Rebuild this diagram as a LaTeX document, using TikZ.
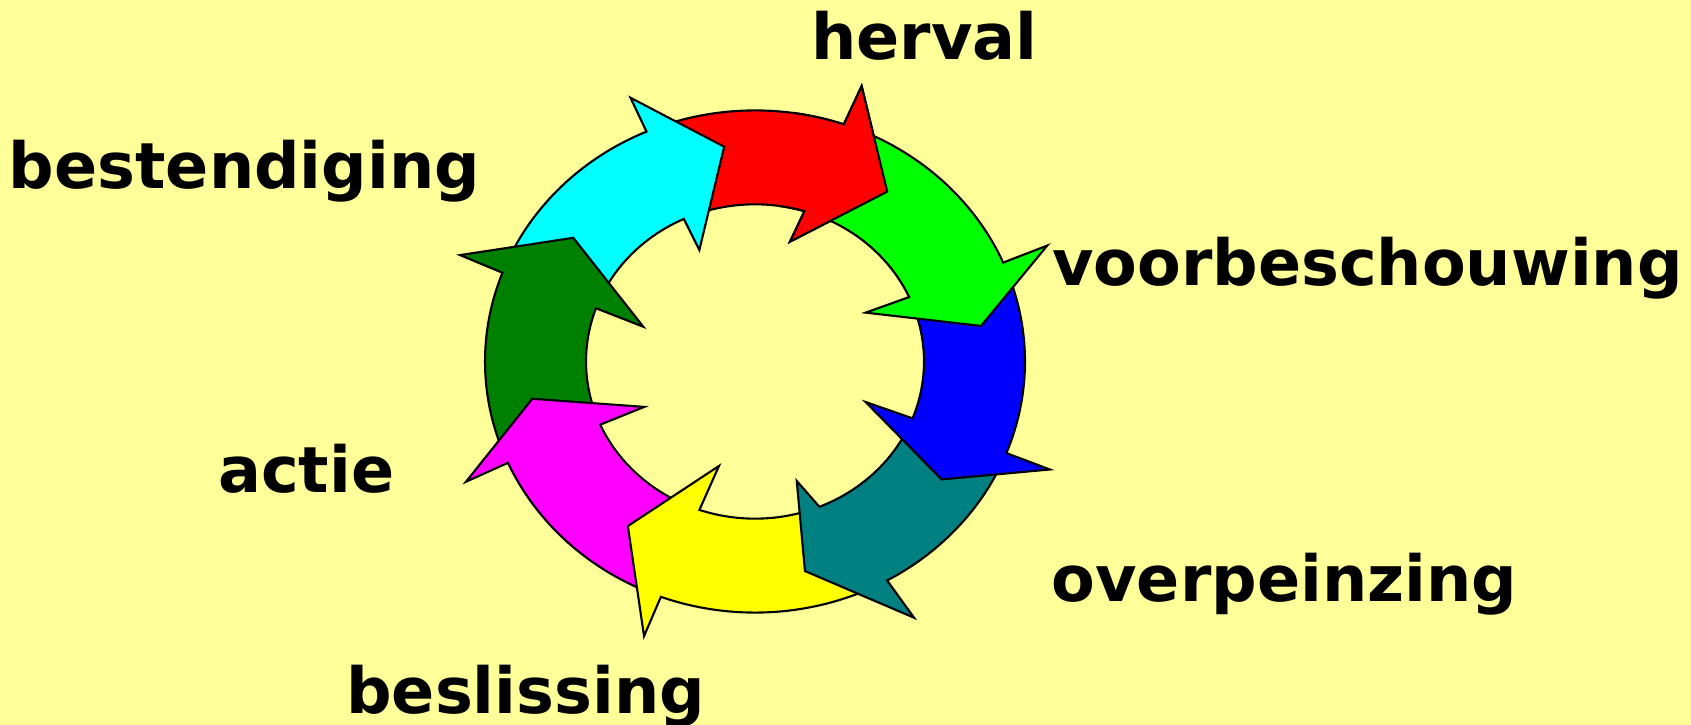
\documentclass[tikz,border=0pt]{standalone}
\usepackage{fontspec}
\setmainfont{DejaVu Sans}
\definecolor{bgyel}{HTML}{FFFF99}
\definecolor{cred}{HTML}{FF0000}
\definecolor{cgreen}{HTML}{00FF00}
\definecolor{cblue}{HTML}{0000FF}
\definecolor{cteal}{HTML}{008080}
\definecolor{cyellow}{HTML}{FFFF00}
\definecolor{cmagenta}{HTML}{FF00FF}
\definecolor{cdkgreen}{HTML}{008000}
\definecolor{ccyan}{HTML}{00FFFF}
% #1 colour, #2 tail outer angle, #3 tail inner angle, #4 outer junction angle,
% #5 outer barb (polar), #6 tip (polar), #7 inner barb (polar), #8 inner junction angle
\def\ringarrow#1#2#3#4#5#6#7#8{%
  \filldraw[ringarr, fill=#1] (#2:270) arc[start angle=#2, end angle=#4, radius=270]
    -- (#5) -- (#6) -- (#7) -- (#8:169)
    arc[start angle=#8, end angle=#3, radius=169] -- cycle;}
\begin{document}
\begin{tikzpicture}[x=0.01cm, y=0.01cm,
  ringarr/.style={draw=black, line width=0.6pt, line join=miter},
  lbl/.style={font=\fontsize{18.1}{22}\selectfont\bfseries, anchor=base, inner sep=0pt}]
\fill[bgyel] (0,0) rectangle (1691,-725);
\useasboundingbox (0,0) rectangle (1691,-725);
\begin{scope}[shift={(755,-361.5)}, yscale=0.93]
  % red (drawn first, redrawn on top of green at the end)
  \ringarrow{cred}{107.5}{106}{70.8}{70.2:314.8}{54.1:225.5}{74.8:133.5}{73}
  \ringarrow{ccyan}{-203.7}{-202.8}{-246.3}{-246.3:309.7}{-262.4:233}{-245.1:132.2}{-245.1}
  \ringarrow{cdkgreen}{-159.2}{-159.3}{-200.7}{-201.2:316.4}{-216.2:225.2}{-198.5:117.8}{-199.8}
  \ringarrow{cmagenta}{-113.4}{-112.2}{-156.2}{-155.9:316.6}{-169.8:226.3}{-156.2:121}{-156.3}
  \ringarrow{cyellow}{-63.7}{-70.6}{-110.4}{-110.6:315.4}{-125.7:217.9}{-107.8:118}{-109.2}
  \ringarrow{cteal}{-24.4}{-24.2}{-60.7}{-60:318.2}{-77.5:230.8}{-72:135.1}{-67.6}
  \ringarrow{cblue}{20.2}{21.2}{-21.4}{-21.5:316.9}{-34.2:225.6}{-21.5:118.9}{-21.2}
  \ringarrow{cgreen}{67.8}{70}{23.2}{23.1:317.7}{9.6:229.2}{25.4:122.5}{24.2}
  \begin{scope}
    \clip (0,0) -- (40:420) -- (60:440) -- (82:420) -- cycle;
    \ringarrow{cred}{107.5}{106}{70.8}{70.2:314.8}{54.1:225.5}{74.8:133.5}{73}
  \end{scope}
\end{scope}
\node[lbl] (herval) at (924.5,-59.3) {herval};
\node[lbl] (bestendiging) at (244.5,-188.7) {bestendiging};
\node[lbl] (voorbeschouwing) at (1367.5,-285.8) {voorbeschouwing};
\node[lbl] (actie) at (306.3,-492.8) {actie};
\node[lbl] (overpeinzing) at (1284.4,-601.7) {overpeinzing};
\node[lbl] (beslissing) at (525.7,-713.9) {beslissing};
\end{tikzpicture}
\end{document}
